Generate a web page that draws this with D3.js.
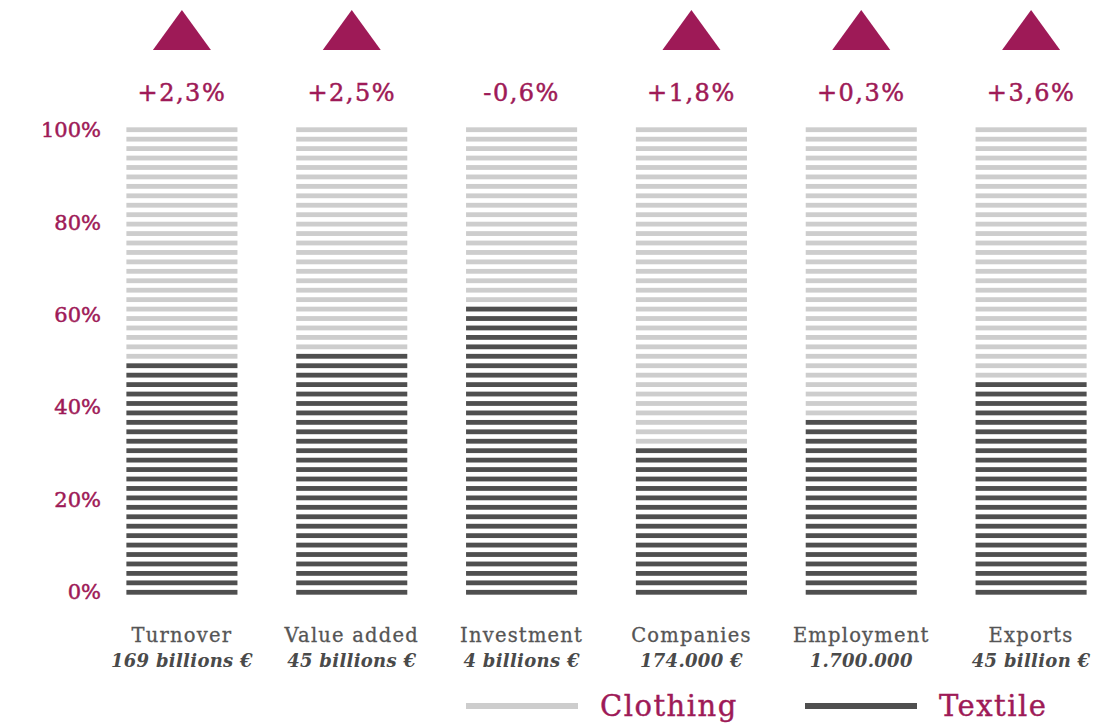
<!DOCTYPE html>
<html>
<head>
<meta charset="utf-8">
<script src="https://cdn.jsdelivr.net/npm/d3@7"></script>
<style>
  body { margin: 0; background: #fff; }
  .axisY text { font-family: "DejaVu Serif", serif; font-size: 21px; fill: #9e1a57; stroke: #9e1a57; stroke-width: 0.5px; }
</style>
</head>
<body>
<div id="chart"></div>
<script>
// chart values
let categories = ["Turnover", "Value added", "Investment", "Companies", "Employment", "Exports"];
let subLabels = ["169 billions €", "45 billions €", "4 billions €", "174.000 €", "1.700.000", "45 billion €"];
let textileShare = [50, 52, 62, 32, 38, 46];
let changes = ["+2,3%", "+2,5%", "-0,6%", "+1,8%", "+0,3%", "+3,6%"];
let growing = [true, true, false, true, true, true];
let yTicks = [0, 20, 40, 60, 80, 100];
let stripeStep = 2; // each stripe = 2%

let width = 1101, height = 723;
let lightGrey = "#cdcdcd", darkGrey = "#4f4f4f", accent = "#9e1a57";

let svg = d3.select("#chart")
  .append("svg")
  .attr("width", width)
  .attr("height", height);

// scales
let x = d3.scaleBand()
  .domain(categories)
  .range([97, 1116])
  .paddingInner(0.346)
  .paddingOuter(0.173);

let yBar = d3.scaleLinear().domain([0, 100]).range([597, 125]);
let yAxis = d3.scaleLinear().domain([0, 100]).range([592, 130]);

// Y axis labels
svg.append("g")
  .attr("class", "axisY")
  .attr("transform", "translate(101,0)")
  .call(d3.axisLeft(yAxis).tickValues(yTicks).tickSize(0).tickPadding(0).tickFormat(d => d + "%"))
  .call(g => g.select(".domain").remove());

// stripes
let rows = [];
categories.forEach(function(c, i) {
  d3.range(0, 100, stripeStep).forEach(function(s) {
    rows.push({cat: c, start: s, textile: s < textileShare[i]});
  });
});

let pitch = yBar(0) - yBar(stripeStep);
let stripeH = 4.8;

svg.append("g")
  .selectAll("rect")
  .data(rows)
  .enter()
  .append("rect")
    .attr("x", d => x(d.cat))
    .attr("width", x.bandwidth())
    .attr("y", d => yBar(d.start + stripeStep) + (pitch - stripeH) / 2)
    .attr("height", stripeH)
    .attr("fill", d => d.textile ? darkGrey : lightGrey);

// triangles
svg.append("g")
  .selectAll("path")
  .data(categories.filter((c, i) => growing[i]))
  .enter()
  .append("path")
    .attr("d", function(c) {
      let cx = x(c) + x.bandwidth() / 2;
      return "M" + (cx - 29) + ",50L" + cx + ",10L" + (cx + 29) + ",50Z";
    })
    .attr("fill", accent);

// change labels
svg.append("g")
  .selectAll("text")
  .data(categories)
  .enter()
  .append("text")
    .attr("x", c => x(c) + x.bandwidth() / 2)
    .attr("y", 101)
    .attr("text-anchor", "middle")
    .attr("font-family", "DejaVu Serif")
    .attr("font-size", 24)
    .attr("letter-spacing", 1.5)
    .attr("fill", accent)
    .attr("stroke", accent)
    .attr("stroke-width", 0.5)
    .text((c, i) => changes[i]);

// category labels
svg.append("g")
  .selectAll("text")
  .data(categories)
  .enter()
  .append("text")
    .attr("x", c => x(c) + x.bandwidth() / 2)
    .attr("y", 642)
    .attr("text-anchor", "middle")
    .attr("font-family", "DejaVu Serif")
    .attr("font-size", 19.5)
    .attr("letter-spacing", 1.2)
    .attr("fill", "#555")
    .attr("stroke", "#555")
    .attr("stroke-width", 0.3)
    .text(c => c);

svg.append("g")
  .selectAll("text")
  .data(categories)
  .enter()
  .append("text")
    .attr("x", c => x(c) + x.bandwidth() / 2)
    .attr("y", 667)
    .attr("text-anchor", "middle")
    .attr("font-family", "DejaVu Serif")
    .attr("font-style", "italic")
    .attr("font-weight", "bold")
    .attr("font-size", 18)
    .attr("letter-spacing", 0.3)
    .attr("fill", "#4a4a4a")
    .text((c, i) => subLabels[i]);

// legend
let legend = [
  {name: "Clothing", color: lightGrey, x0: 466},
  {name: "Textile", color: darkGrey, x0: 805}
];
let lg = svg.append("g")
  .selectAll("g")
  .data(legend)
  .enter()
  .append("g")
  .attr("transform", d => "translate(" + d.x0 + ",706)");

lg.append("rect")
  .attr("x", 0).attr("y", -3)
  .attr("width", 112).attr("height", 6)
  .attr("fill", d => d.color);

lg.append("text")
  .attr("x", 134)
  .attr("y", 10)
  .attr("font-family", "DejaVu Serif")
  .attr("font-size", 29)
  .attr("letter-spacing", 1.5)
  .attr("fill", accent)
  .attr("stroke", accent)
  .attr("stroke-width", 0.4)
  .text(d => d.name);
</script>
</body>
</html>
